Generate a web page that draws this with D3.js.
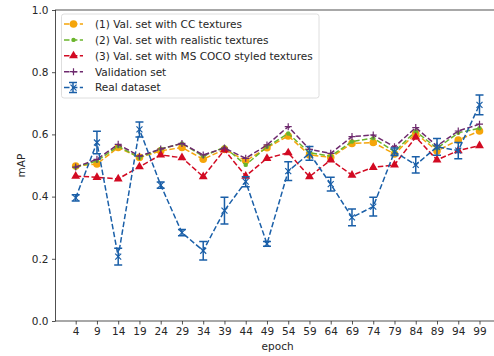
<!DOCTYPE html>
<html><head><meta charset="utf-8">
<script src="https://cdn.jsdelivr.net/npm/d3@7"></script>
<style>html,body{margin:0;padding:0;background:#fff;}svg{display:block;font-family:"DejaVu Sans",sans-serif;}</style>
</head><body><svg id="c" width="494" height="356"></svg>
<script>
const epochs = [4,9,14,19,24,29,34,39,44,49,54,59,64,69,74,79,84,89,94,99];
const ccTextures = [0.498,0.505,0.558,0.526,0.547,0.558,0.520,0.552,0.515,0.557,0.595,0.534,0.526,0.571,0.574,0.537,0.603,0.547,0.582,0.611];
const realisticTextures = [0.494,0.515,0.562,0.525,0.553,0.571,0.530,0.559,0.502,0.560,0.603,0.541,0.530,0.577,0.588,0.545,0.610,0.555,0.605,0.620];
const msCocoTextures = [0.466,0.462,0.457,0.496,0.534,0.525,0.464,0.550,0.466,0.523,0.541,0.464,0.518,0.469,0.494,0.502,0.591,0.518,0.548,0.564];
const validationSet = [0.495,0.520,0.568,0.530,0.553,0.571,0.534,0.556,0.523,0.566,0.625,0.552,0.539,0.593,0.598,0.560,0.622,0.563,0.611,0.633];
const realDataset = [0.396,0.574,0.207,0.616,0.437,0.284,0.226,0.355,0.448,0.248,0.482,0.539,0.440,0.333,0.368,0.544,0.502,0.560,0.548,0.695];
const realErr = [0.010,0.036,0.027,0.024,0.010,0.010,0.030,0.043,0.016,0.008,0.030,0.022,0.022,0.027,0.030,0.012,0.026,0.027,0.026,0.032];
const yTicks = [0.0,0.2,0.4,0.6,0.8,1.0];
const legendLabels = ["(1) Val. set with CC textures","(2) Val. set with realistic textures","(3) Val. set with MS COCO styled textures","Validation set","Real dataset"];

const FS = 10.5;
const svg = d3.select("#c");
const L = 55.5, R = 499.7, T = 10, B = 321;
const x = d3.scaleLinear().domain([-0.75, 103.75]).range([L, R]);
const y = d3.scaleLinear().domain([0, 1]).range([B, T]);

const xAxis = svg.append("g").attr("transform", `translate(0,${B})`)
  .call(d3.axisBottom(x).tickValues(epochs).tickFormat(d3.format("d")).tickSizeOuter(0).tickSize(3.5).tickPadding(3.5));
const yAxis = svg.append("g").attr("transform", `translate(${L},0)`)
  .call(d3.axisLeft(y).tickValues(yTicks).tickFormat(d3.format(".1f")).tickSizeOuter(0).tickSize(3.5).tickPadding(3.5));
[xAxis, yAxis].forEach(g => {
  g.selectAll("text").attr("font-size", FS).attr("fill", "#262626").attr("font-family", "DejaVu Sans");
  g.selectAll("line").attr("stroke", "#262626").attr("stroke-width", 0.8);
  g.select(".domain").remove();
});
svg.append("rect").attr("x", L).attr("y", T).attr("width", R - L).attr("height", B - T)
  .attr("fill", "none").attr("stroke", "#262626").attr("stroke-width", 0.8);

svg.append("text").attr("x", (L + R) / 2).attr("y", 350).attr("text-anchor", "middle")
  .attr("font-size", FS).attr("fill", "#262626").text("epoch");
svg.append("text").attr("transform", `translate(25,${(T + B) / 2}) rotate(-90)`).attr("text-anchor", "middle")
  .attr("font-size", FS).attr("fill", "#262626").text("mAP");

const colors = ["#f5a50a", "#6bb52c", "#d20a22", "#6e2a6e", "#1a5fa8"];
const seriesList = [ccTextures, realisticTextures, msCocoTextures, validationSet, realDataset];
const markers = ["circle", "dot", "triangle", "plus", "x"];

const line = d3.line().x((d, i) => x(epochs[i])).y(d => y(d));
const plot = svg.append("g");

function drawMarker(g, type, cx, cy, col) {
  if (type === "circle") g.append("circle").attr("cx", cx).attr("cy", cy).attr("r", 3.8).attr("fill", col);
  else if (type === "dot") g.append("circle").attr("cx", cx).attr("cy", cy).attr("r", 2.2).attr("fill", col);
  else if (type === "triangle") g.append("path").attr("d", d3.symbol(d3.symbolTriangle, 34)()).attr("transform", `translate(${cx},${cy})`).attr("fill", col);
  else if (type === "plus") g.append("path").attr("d", `M${cx-3.5},${cy}H${cx+3.5}M${cx},${cy-3.5}V${cy+3.5}`).attr("stroke", col).attr("stroke-width", 1.2);
  else if (type === "x") g.append("path").attr("d", `M${cx-3},${cy-3}L${cx+3},${cy+3}M${cx-3},${cy+3}L${cx+3},${cy-3}`).attr("stroke", col).attr("stroke-width", 1.2);
}

seriesList.forEach((s, k) => {
  const col = colors[k];
  const g = plot.append("g");
  if (k === 4) {
    s.forEach((v, i) => {
      const cx = x(epochs[i]), e = realErr[i];
      g.append("path").attr("d", `M${cx},${y(v - e)}V${y(v + e)}M${cx-4},${y(v - e)}H${cx+4}M${cx-4},${y(v + e)}H${cx+4}`)
        .attr("stroke", col).attr("stroke-width", 1.5).attr("fill", "none");
    });
  }
  g.append("path").datum(s).attr("d", line).attr("fill", "none").attr("stroke", col)
    .attr("stroke-width", 1.5).attr("stroke-dasharray", "5.5,2.4");
  s.forEach((v, i) => drawMarker(g, markers[k], x(epochs[i]), y(v), col));
});

const lg = svg.append("g");
lg.append("rect").attr("x", 61.5).attr("y", 14).attr("width", 257.5).attr("height", 84).attr("rx", 2.5)
  .attr("fill", "rgba(255,255,255,0.8)").attr("stroke", "#d6d6d6").attr("stroke-width", 0.8);
legendLabels.forEach((lab, k) => {
  const ly = 24 + k * 15.9, col = colors[k];
  if (k === 4) {
    lg.append("path").attr("d", `M73,${ly-5}V${ly+5}M69,${ly-5}H77M69,${ly+5}H77`).attr("stroke", col).attr("stroke-width", 1.5);
  }
  lg.append("line").attr("x1", 64).attr("x2", 83).attr("y1", ly).attr("y2", ly)
    .attr("stroke", col).attr("stroke-width", 1.5).attr("stroke-dasharray", "5.5,2.4");
  drawMarker(lg, markers[k], 73.5, ly, col);
  lg.append("text").attr("x", 95).attr("y", ly + 3.8).attr("font-size", FS).attr("fill", "#262626").text(lab);
});
</script></body></html>
